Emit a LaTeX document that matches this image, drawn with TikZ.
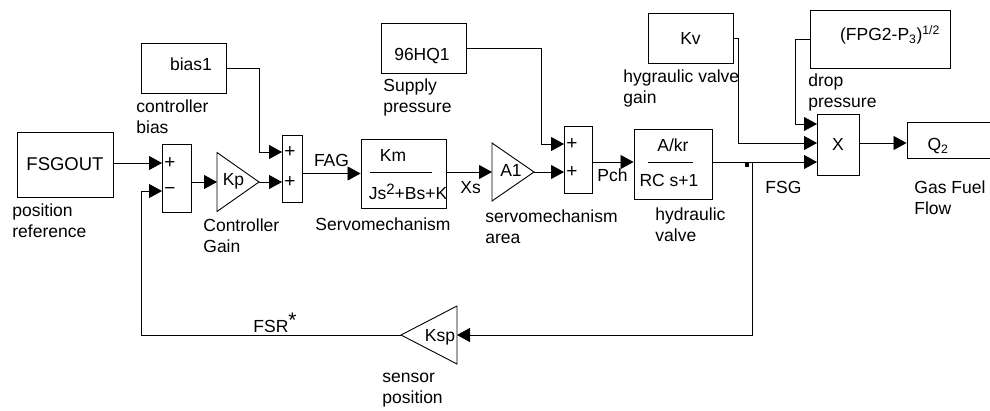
\documentclass[tikz,border=0pt]{standalone}
\usepackage{fontspec}
\setmainfont{Liberation Sans}
\usetikzlibrary{arrows.meta}

\begin{document}
\begin{tikzpicture}[x=1pt,y=-1pt,line width=0.8pt,
      font=\fontsize{17.5}{21}\selectfont,
      b/.style={draw,rectangle,inner sep=0pt,line width=0.9pt},
      tri/.style={line width=0.9pt,line join=miter},
      lbl/.style={anchor=west,align=left,inner sep=0pt},
      sg/.style={anchor=west,inner sep=0pt,font=\fontsize{19}{20}\selectfont},
      arr/.style={-{Triangle[length=13pt,width=14pt]}}]
    \useasboundingbox (0,0) rectangle (990,410);
    \clip (0,0) rectangle (990,410);
    \node[b,minimum width=96,minimum height=65,font=\fontsize{18.5}{20}\selectfont] (fsg) at (65,164.5) {FSGOUT};
    \node[b,minimum width=29,minimum height=68] (s1) at (176.5,178) {};
    \coordinate (kpi) at (217,182);
    \coordinate (kpo) at (259,182);
    \draw[tri] (217,152.5) -- (kpo) -- (217,211.5) -- cycle;
    \node[inner sep=0pt] (kp) at (233.5,181) {Kp};
    \node[b,minimum width=85,minimum height=50] (bias) at (183.5,68) {};
    \node[inner sep=0pt] (biast) at (191,64) {bias1};
    \node[b,minimum width=20,minimum height=67] (s3) at (292,168.5) {};
    \node[b,minimum width=85,minimum height=69] (servo) at (403.5,173.5) {};
    \node[inner sep=0pt] (servon) at (393,155) {Km};
    \node[inner sep=0pt] (servod) at (408,192) {Js\raisebox{0.55ex}{\fontsize{15}{15}\selectfont 2}+Bs+K};
    \draw (370,172) -- (432,172);
    \coordinate (a1i) at (492,172);
    \coordinate (a1o) at (534,172);
    \draw[tri] (492,143) -- (a1o) -- (492,201) -- cycle;
    \node[inner sep=0pt] (a1) at (511,170) {A1};
    \node[b,minimum width=85,minimum height=50] (hq) at (423.5,48) {};
    \node[inner sep=0pt] (hqt) at (422,56) {96HQ1};
    \node[b,minimum width=28,minimum height=67] (s2) at (578,159.5) {};
    \node[b,minimum width=78,minimum height=70] (hv) at (673,164) {};
    \node[inner sep=0pt] (hvn) at (673,145) {A/kr};
    \node[inner sep=0pt] (hvd) at (669,180) {RC s+1};
    \draw (648,162) -- (693,162);
    \node[b,minimum width=85,minimum height=50] (kv) at (690.5,38) {Kv};
    \node[b,minimum width=140,minimum height=58] (fpg) at (880,39) {};
    \node[inner sep=0pt] (fpgt) at (890,35) {(FPG2-P\textsubscript{3})\textsuperscript{1/2}};
    \node[b,minimum width=42,minimum height=61] (xm) at (838,144.5) {X};
    \node[b,minimum width=88,minimum height=36] (q2) at (951,140) {};
    \node[inner sep=0pt] (q2t) at (938,146) {Q\textsubscript{2}};
    \coordinate (kspi) at (457,335);
    \coordinate (kspo) at (401,335);
    \draw[tri] (457,306) -- (kspo) -- (457,364) -- cycle;
    \node[inner sep=0pt] (ksp) at (440,337) {Ksp};
    \node[fill,inner sep=0pt,minimum width=4,minimum height=5] (jn) at (747,164) {};

    \coordinate (s1a) at (162,163);
    \coordinate (s1b) at (162,191);
    \coordinate (s3a) at (282,152);
    \coordinate (s3b) at (282,182);
    \coordinate (s2a) at (564,144);
    \coordinate (s2b) at (564,172);
    \coordinate (x1) at (817,124);
    \coordinate (x2) at (817,143);
    \coordinate (x3) at (817,162);
    \coordinate (br) at (752,162);
    \foreach \p/\s in {s1a/+,s1b/−,s3a/+,s3b/+,s2a/+,s2b/+}
      \node[sg] (\p t) at ([xshift=2pt]\p) {\s};

    \draw[arr] (fsg.east |- s1a) -- (s1a);
    \draw[arr] (s1.east |- kpi) -- (kpi);
    \draw[arr] (kpo) -- (s3b);
    \draw[arr] (bias.east) -| (kpo |- s3a) -- (s3a);
    \draw[arr] (s3.east |- servo) -- (servo.west)
      node[midway,above=6pt,inner sep=0pt] (fag) {FAG};
    \draw[arr] (servo.east |- a1i) -- (a1i);
    \draw[arr] (a1o) -- (s2b);
    \draw[arr] (hq.east) -| ([xshift=-23pt]s2a) -- (s2a);
    \draw[arr] (s2.east |- x3) -- (hv.west |- x3);
    \draw[arr] (hv.east |- x3) -- (x3);
    \draw[arr] (kv.east) -| ([xshift=-79pt]x2) -- (x2);
    \draw[arr] (fpg.west) -| ([xshift=-22pt]x1) -- (x1);
    \draw[arr] (xm.east |- x2) -- (q2.west |- x2);
    \draw[arr] (br) |- (kspi);
    \draw[arr] (kspo) -| ([xshift=-21pt]s1b) -- (s1b);

    \node[lbl] (posref) at (12,220.5) {position\\reference};
    \node[lbl] (kpl) at (203,236) {Controller\\Gain};
    \node[lbl] (servol) at (315,224) {Servomechanism};
    \node[lbl] (a1l) at (485,227) {servomechanism\\area};
    \node[lbl] (hvl) at (655,224.5) {hydraulic\\valve};
    \node[lbl] (biasl) at (136,116.5) {controller\\bias};
    \node[lbl] (hql) at (383,97) {Supply\\pressure};
    \node[lbl] (kvl) at (623,88.5) {hygraulic valve\\gain};
    \node[lbl] (fpgl) at (808,92) {drop\\pressure};
    \node[lbl] (q2l) at (914,198) {Gas Fuel\\Flow};
    \node[lbl] (fsgl) at (765,187) {FSG};
    \node[lbl] (xsl) at (460,188) {Xs};
    \node[lbl] (pchl) at (597,175) {Pch};
    \node[lbl] (fsrl) at (253,323) {FSR\raisebox{0.55ex}{\fontsize{21}{21}\selectfont *}};
    \node[lbl] (kspl) at (382,390) {sensor\\position};
  \end{tikzpicture}
\end{document}
